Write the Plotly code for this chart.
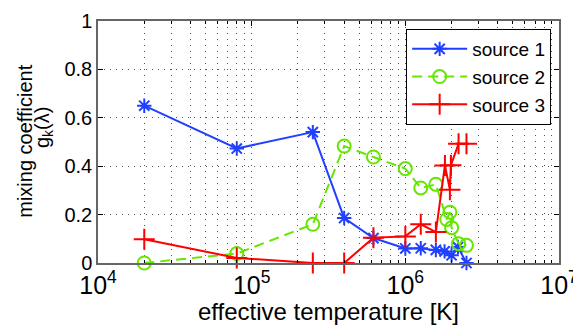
import plotly.graph_objects as go

# effective temperature [K] and mixing coefficient per source
temp_1 = [2e4, 8e4, 2.5e5, 4e5, 6.2e5, 1e6, 1.26e6, 1.58e6, 1.8e6, 2e6, 2.2e6, 2.5e6]
mix_1 = [0.65, 0.473, 0.541, 0.186, 0.103, 0.06, 0.061, 0.054, 0.048, 0.032, 0.066, 0.0]

temp_2 = [2e4, 8e4, 2.5e5, 4e5, 6.2e5, 1e6, 1.26e6, 1.58e6, 1.86e6, 1.95e6, 2e6, 2.22e6, 2.5e6]
mix_2 = [0.0, 0.039, 0.16, 0.483, 0.438, 0.39, 0.31, 0.325, 0.18, 0.21, 0.146, 0.08, 0.073]

temp_3 = [2e4, 8e4, 2.5e5, 4e5, 6.2e5, 1e6, 1.26e6, 1.58e6, 1.81e6, 1.95e6, 1.98e6, 2.22e6, 2.5e6]
mix_3 = [0.098, 0.021, 0.0, 0.0, 0.104, 0.11, 0.16, 0.128, 0.403, 0.303, 0.404, 0.493, 0.493]

names = ['source 1', 'source 2', 'source 3']
colors = ['#2040ff', '#66e600', '#ff0000']
ylabel_lines = ['mixing coefficient', 'g<sub>k</sub>(λ)']

fig = go.Figure()
fig.add_trace(go.Scatter(
    x=temp_1, y=mix_1, name=names[0], mode='lines+markers', cliponaxis=False,
    line=dict(color=colors[0], width=2),
    marker=dict(symbol='asterisk-open', size=12, line=dict(color=colors[0], width=2))))
fig.add_trace(go.Scatter(
    x=temp_2, y=mix_2, name=names[1], mode='lines+markers', cliponaxis=False,
    line=dict(color=colors[1], width=2, dash='10px,6px'),
    marker=dict(symbol='circle-open', size=13, line=dict(color=colors[1], width=2))))
fig.add_trace(go.Scatter(
    x=temp_3, y=mix_3, name=names[2], mode='lines+markers', cliponaxis=False,
    line=dict(color=colors[2], width=2),
    marker=dict(symbol='cross-thin-open', size=15, line=dict(color=colors[2], width=2))))

fam = 'Liberation Sans, Arial'
base_font = dict(family=fam, size=20, color='black')
label_font = dict(family=fam, size=20, color='black')
grid_col = '#555'

# page body adds ~8px offset, so the figure is a bit smaller than the window
fig.update_layout(
    width=573, height=317,
    margin=dict(l=90, r=22, t=13, b=62, autoexpand=False),
    plot_bgcolor='white', paper_bgcolor='white',
    font=base_font,
    legend=dict(x=0.983, y=0.967, xanchor='right', yanchor='top',
                bordercolor='black', borderwidth=1, bgcolor='white',
                itemwidth=55, tracegroupgap=0, font=dict(family=fam, size=19)),
)
# y label as two tight rotated lines
fig.add_annotation(text=ylabel_lines[0], xref='paper', yref='paper', x=-0.159, y=0.504,
                   xanchor='center', yanchor='middle', textangle=-90, showarrow=False,
                   font=label_font)
fig.add_annotation(text=ylabel_lines[1], xref='paper', yref='paper', x=-0.118, y=0.56,
                   xanchor='center', yanchor='middle', textangle=-90, showarrow=False,
                   font=label_font)

fig.update_xaxes(
    type='log', range=[4, 7], dtick=1, exponentformat='power',
    showline=True, linecolor='#666', linewidth=1.5, mirror='ticks',
    ticks='inside', ticklen=5, tickcolor='black',
    showgrid=True, gridcolor=grid_col, griddash='1px,5px', gridwidth=1,
    minor=dict(dtick='D1', showgrid=True, gridcolor=grid_col, griddash='1px,5px',
               ticks='inside', ticklen=3, tickcolor='black'),
    title=dict(text='effective temperature [K]', standoff=0),
    zeroline=False, automargin=False,
)
fig.update_yaxes(
    range=[0, 1], dtick=0.2,
    showline=True, linecolor='#666', linewidth=1.5, mirror='ticks',
    ticks='inside', ticklen=5, tickcolor='black',
    showgrid=True, gridcolor=grid_col, griddash='1px,5px', gridwidth=1,
    zeroline=False, automargin=False,
)

fig.write_html("out.html")
